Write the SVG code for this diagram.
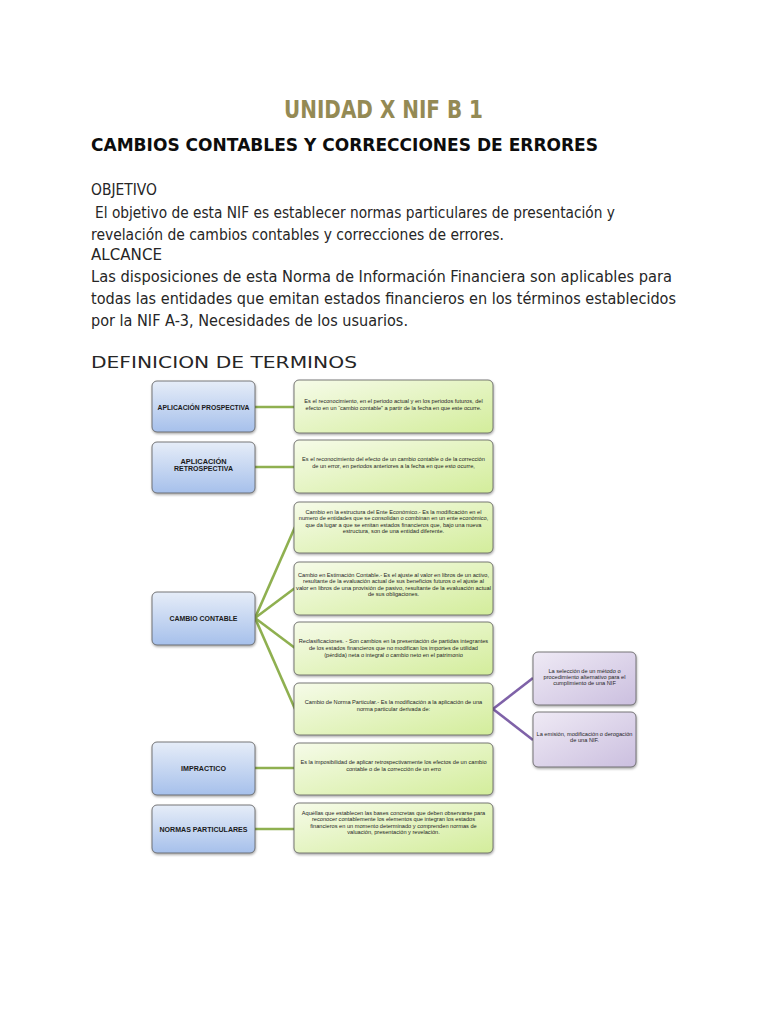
<svg xmlns="http://www.w3.org/2000/svg" width="768" height="1024" viewBox="0 0 768 1024">
<style>
.hd{font-family:"DejaVu Sans","Liberation Sans",sans-serif;font-size:15.5px;fill:#262626}
.ttl{font-family:"DejaVu Sans","Liberation Sans",sans-serif;font-size:24px;font-weight:bold;fill:#948a54}
.sub{font-family:"DejaVu Sans","Liberation Sans",sans-serif;font-size:18px;font-weight:bold;fill:#0d0d0d}
.bl{font-family:"Liberation Sans",Arial,sans-serif;font-size:6.6px;font-weight:bold;fill:#1a1a1a;text-anchor:middle}
.tx{font-family:"Liberation Sans",Arial,sans-serif;font-size:5.65px;fill:#262626;text-anchor:middle}
.bb{fill:url(#gb);stroke:#595959;stroke-width:0.8;filter:url(#sh)}
.gb{fill:url(#gg);stroke:#595959;stroke-width:0.8;filter:url(#sh)}
.pb{fill:url(#gp);stroke:#595959;stroke-width:0.8;filter:url(#sh)}
.cg{stroke:#8fb050;stroke-width:2.6;fill:none}
.cp{stroke:#7f62a8;stroke-width:2.6;fill:none}
</style>
<defs>
<linearGradient id="gb" x1="0" y1="0" x2="0" y2="1"><stop offset="0" stop-color="#e6edf8"/><stop offset="1" stop-color="#a6c0eb"/></linearGradient>
<linearGradient id="gg" x1="0" y1="0" x2="1" y2="1"><stop offset="0" stop-color="#f6fbe9"/><stop offset="1" stop-color="#d3ed9b"/></linearGradient>
<linearGradient id="gp" x1="0" y1="0" x2="1" y2="1"><stop offset="0" stop-color="#efeaf5"/><stop offset="1" stop-color="#cbbfdf"/></linearGradient>
<filter id="sh" x="-10%" y="-10%" width="125%" height="130%"><feDropShadow dx="0.5" dy="1.5" stdDeviation="1" flood-color="#000" flood-opacity="0.35"/></filter>
</defs>
<rect width="768" height="1024" fill="#fff"/>

<g id="header">
<text class="ttl" x="284" y="118" textLength="199" lengthAdjust="spacingAndGlyphs">UNIDAD X NIF B 1</text>
<text class="sub" x="91" y="151" textLength="507" lengthAdjust="spacingAndGlyphs">CAMBIOS CONTABLES Y CORRECCIONES DE ERRORES</text>
<text class="hd" x="91" y="195" textLength="66" lengthAdjust="spacingAndGlyphs">OBJETIVO</text>
<text class="hd" x="95" y="218" textLength="520" lengthAdjust="spacingAndGlyphs">El objetivo de esta NIF es establecer normas particulares de presentación y</text>
<text class="hd" x="91" y="240" textLength="413" lengthAdjust="spacingAndGlyphs">revelación de cambios contables y correcciones de errores.</text>
<text class="hd" x="91" y="260" textLength="71" lengthAdjust="spacingAndGlyphs">ALCANCE</text>
<text class="hd" x="91" y="282" textLength="581" lengthAdjust="spacingAndGlyphs">Las disposiciones de esta Norma de Información Financiera son aplicables para</text>
<text class="hd" x="91" y="304" textLength="585" lengthAdjust="spacingAndGlyphs">todas las entidades que emitan estados financieros en los términos establecidos</text>
<text class="hd" x="91" y="326" textLength="317" lengthAdjust="spacingAndGlyphs">por la NIF A-3, Necesidades de los usuarios.</text>
<text class="hd" x="91" y="368" font-size="14" textLength="266" lengthAdjust="spacingAndGlyphs">DEFINICION DE TERMINOS</text>
</g>

<g id="connectors">
<line class="cg" x1="255" y1="407" x2="295" y2="407"/>
<line class="cg" x1="255" y1="467" x2="295" y2="467"/>
<line class="cg" x1="255" y1="618" x2="295" y2="527"/>
<line class="cg" x1="255" y1="618" x2="295" y2="588"/>
<line class="cg" x1="255" y1="618" x2="295" y2="648"/>
<line class="cg" x1="255" y1="618" x2="295" y2="709"/>
<line class="cg" x1="255" y1="768" x2="295" y2="768"/>
<line class="cg" x1="255" y1="829" x2="295" y2="829"/>
<line class="cp" x1="493" y1="709" x2="533" y2="678"/>
<line class="cp" x1="493" y1="709" x2="533" y2="740"/>
</g>

<g id="n-prospectiva">
<rect class="bb" x="152" y="381" width="103" height="51" rx="5"/>
<text class="bl" x="203.5" y="409.5" textLength="92" lengthAdjust="spacingAndGlyphs">APLICACIÓN PROSPECTIVA</text>
</g>
<g id="n-retrospectiva">
<rect class="bb" x="152" y="442" width="103" height="51" rx="5"/>
<text class="bl" x="203.5" y="463.5" textLength="46" lengthAdjust="spacingAndGlyphs">APLICACIÓN</text>
<text class="bl" x="203.5" y="470.5" textLength="59" lengthAdjust="spacingAndGlyphs">RETROSPECTIVA</text>
</g>
<g id="n-cambio">
<rect class="bb" x="152" y="592" width="103" height="53" rx="5"/>
<text class="bl" x="203.5" y="620.5" textLength="68" lengthAdjust="spacingAndGlyphs">CAMBIO CONTABLE</text>
</g>
<g id="n-impractico">
<rect class="bb" x="152" y="742" width="103" height="53" rx="5"/>
<text class="bl" x="203.5" y="770.5" textLength="45" lengthAdjust="spacingAndGlyphs">IMPRACTICO</text>
</g>
<g id="n-normas">
<rect class="bb" x="152" y="805" width="103" height="48" rx="5"/>
<text class="bl" x="203.5" y="831.5" textLength="88" lengthAdjust="spacingAndGlyphs">NORMAS PARTICULARES</text>
</g>

<g id="d-prospectiva">
<rect class="gb" x="294" y="380" width="199" height="53" rx="5"/>
<text class="tx" x="393.5" y="403">Es el reconocimiento, en el periodo actual y en los periodos futuros, del</text>
<text class="tx" x="393.5" y="409.5">efecto en un “cambio contable” a partir de la fecha en que este ocurre.</text>
</g>
<g id="d-retrospectiva">
<rect class="gb" x="294" y="440" width="199" height="53" rx="5"/>
<text class="tx" x="393.5" y="461">Es el reconocimiento del efecto de un cambio contable o de la corrección</text>
<text class="tx" x="393.5" y="468">de un error, en periodos anteriores a la fecha en que esto ocurre,</text>
</g>
<g id="d-estructura">
<rect class="gb" x="294" y="502" width="199" height="51" rx="5"/>
<text class="tx" x="393.5" y="514">Cambio en la estructura del Ente Económico.- Es la modificación en el</text>
<text class="tx" x="393.5" y="520.3">numero de entidades que se consolidan o combinan en un ente económico,</text>
<text class="tx" x="393.5" y="526.6">que da lugar a que se emitan estados financieros que, bajo una nueva</text>
<text class="tx" x="393.5" y="532.9">estructura, son de una entidad diferente.</text>
</g>
<g id="d-estimacion">
<rect class="gb" x="294" y="562" width="199" height="53" rx="5"/>
<text class="tx" x="393.5" y="577">Cambio en Estimación Contable.- Es el ajuste al valor en libros de un activo,</text>
<text class="tx" x="393.5" y="583.4">resultante de la evaluación actual de sus beneficios futuros o el ajuste al</text>
<text class="tx" x="393.5" y="589.8" textLength="195" lengthAdjust="spacingAndGlyphs">valor en libros de una provisión de pasivo, resultante de la evaluación actual</text>
<text class="tx" x="393.5" y="596.2">de sus obligaciones.</text>
</g>
<g id="d-reclasificaciones">
<rect class="gb" x="294" y="622" width="199" height="53" rx="5"/>
<text class="tx" x="393.5" y="643">Reclasificaciones. - Son cambios en la presentación de partidas integrantes</text>
<text class="tx" x="393.5" y="650">de los estados financieros que no modifican los importes de utilidad</text>
<text class="tx" x="393.5" y="657">(pérdida) neta o integral o cambio neto en el patrimonio</text>
</g>
<g id="d-norma">
<rect class="gb" x="294" y="683" width="199" height="52" rx="5"/>
<text class="tx" x="393.5" y="704">Cambio de Norma Particular.- Es la modificación a la aplicación de una</text>
<text class="tx" x="393.5" y="711">norma particular derivada de:</text>
</g>
<g id="d-seleccion">
<rect class="pb" x="533" y="652" width="103" height="53" rx="5"/>
<text class="tx" x="584.5" y="673">La selección de un método o</text>
<text class="tx" x="584.5" y="679">procedimiento alternativo para el</text>
<text class="tx" x="584.5" y="685">cumplimiento de una NIF</text>
</g>
<g id="d-emision">
<rect class="pb" x="533" y="712" width="103" height="55" rx="5"/>
<text class="tx" x="584.5" y="736">La emisión, modificación o derogación</text>
<text class="tx" x="584.5" y="742">de una NIF.</text>
</g>
<g id="d-impractico">
<rect class="gb" x="294" y="743" width="199" height="52" rx="5"/>
<text class="tx" x="393.5" y="764">Es la imposibilidad de aplicar retrospectivamente los efectos de un cambio</text>
<text class="tx" x="393.5" y="770.5">contable o de la corrección de un erro</text>
</g>
<g id="d-normas">
<rect class="gb" x="294" y="803" width="199" height="50" rx="5"/>
<text class="tx" x="393.5" y="815">Aquéllas que establecen las bases concretas que deben observarse para</text>
<text class="tx" x="393.5" y="821.4">reconocer contablemente los elementos que integran los estados</text>
<text class="tx" x="393.5" y="827.8">financieros en un momento determinado y comprenden normas de</text>
<text class="tx" x="393.5" y="834.2">valuación, presentación y revelación.</text>
</g>
</svg>
